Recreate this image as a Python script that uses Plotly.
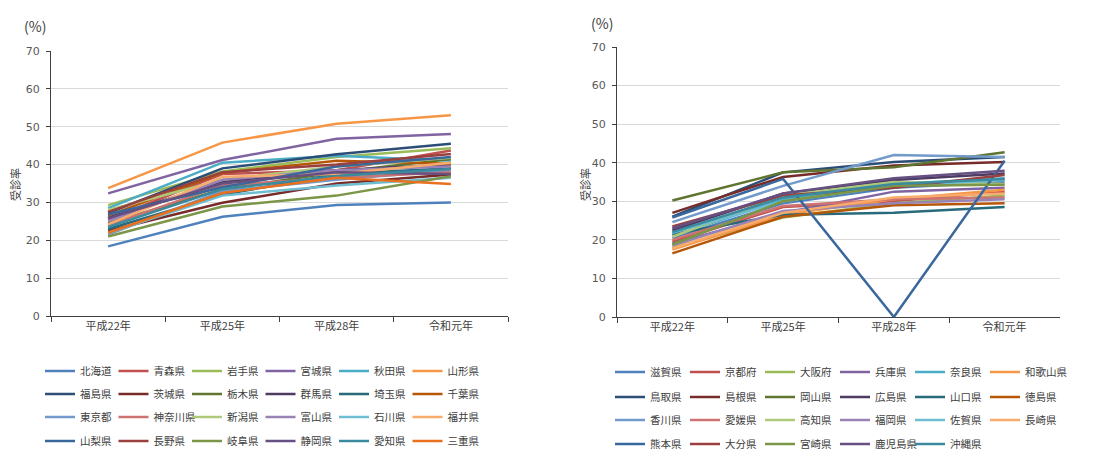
import plotly.graph_objects as go

# page is 1110x455, the figure div sits 8px in from the top-left corner
OFF = 8
W, H = 1110 - OFF, 455 - OFF

categories = ["平成22年", "平成25年", "平成28年", "令和元年"]
y_ticks = [0, 10, 20, 30, 40, 50, 60, 70]

# ---- left chart (北海道〜三重県) ----
left_names = ["北海道", "青森県", "岩手県", "宮城県", "秋田県", "山形県",
              "福島県", "茨城県", "栃木県", "群馬県", "埼玉県", "千葉県",
              "東京都", "神奈川県", "新潟県", "富山県", "石川県", "福井県",
              "山梨県", "長野県", "岐阜県", "静岡県", "愛知県", "三重県"]
left_values = [
    [18.4, 26.2, 29.3, 30.0],
    [25.5, 37.5, 38.5, 43.7],
    [29.3, 38.2, 42.0, 44.3],
    [32.4, 41.2, 46.8, 48.1],
    [28.5, 40.5, 42.3, 41.0],
    [33.8, 45.8, 50.8, 53.0],
    [27.2, 39.0, 42.7, 45.5],
    [22.5, 29.9, 35.0, 37.4],
    [24.5, 33.5, 38.0, 41.5],
    [26.0, 35.5, 38.5, 40.0],
    [23.0, 32.0, 37.5, 39.0],
    [26.5, 37.8, 41.0, 40.2],
    [21.5, 33.0, 36.0, 38.5],
    [24.0, 34.5, 36.5, 38.0],
    [28.0, 36.0, 39.5, 41.8],
    [25.0, 36.0, 38.5, 39.5],
    [22.0, 31.8, 34.5, 36.5],
    [24.2, 36.8, 37.5, 40.5],
    [26.8, 34.0, 39.5, 42.0],
    [27.5, 38.0, 40.0, 42.8],
    [21.0, 28.9, 31.8, 36.9],
    [25.8, 35.0, 38.0, 37.5],
    [23.5, 33.5, 37.0, 38.8],
    [22.0, 32.5, 36.5, 34.9],
]

# ---- right chart (滋賀県〜沖縄県) ----
right_names = ["滋賀県", "京都府", "大阪府", "兵庫県", "奈良県", "和歌山県",
               "鳥取県", "島根県", "岡山県", "広島県", "山口県", "徳島県",
               "香川県", "愛媛県", "高知県", "福岡県", "佐賀県", "長崎県",
               "熊本県", "大分県", "宮崎県", "鹿児島県", "沖縄県"]
right_values = [
    [20.5, 29.5, 33.5, 35.0],
    [19.5, 28.5, 30.0, 32.5],
    [18.0, 25.8, 29.5, 31.5],
    [19.0, 27.0, 32.5, 33.5],
    [21.0, 30.5, 34.5, 36.0],
    [17.5, 26.5, 30.5, 33.0],
    [26.0, 37.5, 40.2, 41.5],
    [27.0, 36.3, 39.3, 40.2],
    [30.2, 37.5, 38.8, 42.7],
    [22.5, 32.0, 35.5, 37.2],
    [21.5, 26.5, 27.0, 28.5],
    [16.5, 26.0, 29.0, 29.5],
    [24.6, 34.0, 42.0, 41.5],
    [20.0, 28.8, 30.5, 31.0],
    [20.8, 31.5, 35.0, 34.5],
    [18.5, 27.5, 29.5, 30.5],
    [21.8, 30.0, 34.0, 35.5],
    [17.8, 27.0, 31.0, 32.0],
    [25.8, 35.8, 0.0, 40.5],
    [23.5, 31.5, 33.5, 36.8],
    [18.8, 30.0, 34.0, 34.3],
    [23.0, 32.0, 36.0, 37.9],
    [22.0, 31.0, 34.5, 35.8],
]

palette = ["#4F81BD", "#C0504D", "#9BBB59", "#8064A2", "#4BACC6", "#F79646",
           "#2C4D75", "#772C2A", "#5F7530", "#4D3B62", "#276A7C", "#B65708",
           "#729ACA", "#CD7371", "#AFC97A", "#9983B5", "#6FBDD1", "#F9AB6B",
           "#3A679C", "#9A403E", "#7C9647", "#665082", "#3C8A9E", "#E9701F"]

CJK = "Noto Sans CJK JP"
NUM = "DejaVu Sans"
TXT = "#404040"

fig = go.Figure()

def add_chart(names, values, xa, ya, legend_base, entry_w):
    for i, (n, v) in enumerate(zip(names, values)):
        row, col = divmod(i, 6)
        fig.add_trace(go.Scatter(
            x=categories, y=v, name=n, mode="lines",
            line=dict(color=palette[i], width=2.5),
            xaxis=xa, yaxis=ya,
            legend="legend" if legend_base + row == 1 else f"legend{legend_base + row}",
            legendwidth=entry_w if col < 5 else 60,
            hoverinfo="skip",
        ))

add_chart(left_names, left_values, "x", "y", 1, 28.5)
add_chart(right_names, right_values, "x2", "y2", 5, 30)

def px_x(p):
    return (p - OFF) / W

def px_y(p):
    return (H - (p - OFF)) / H

xcommon = dict(type="category", categoryorder="array", categoryarray=categories,
               range=[-0.5, 3.5], tickson="boundaries", ticks="outside", ticklen=5,
               tickcolor="#404040", showline=True, linecolor="#404040", linewidth=1,
               showgrid=False, zeroline=False,
               tickfont=dict(family=CJK, size=11, color=TXT))
ycommon = dict(range=[0, 70], tickvals=y_ticks, ticks="outside", ticklen=4,
               tickcolor="#404040", showline=True, linecolor="#404040", linewidth=1,
               showgrid=True, gridcolor="#D9D9D9", gridwidth=1, zeroline=False,
               ticklabelstandoff=4,
               tickfont=dict(family=NUM, size=11, color="#595959"))

fig.update_layout(
    width=W, height=H,
    margin=dict(l=0, r=0, t=0, b=0, autoexpand=False),
    paper_bgcolor="white", plot_bgcolor="white",
    showlegend=True,
    xaxis=dict(domain=[px_x(51), px_x(508)], anchor="y", **xcommon),
    yaxis=dict(domain=[px_y(316), px_y(51)], anchor="x", **ycommon),
    xaxis2=dict(domain=[px_x(617), px_x(1060)], anchor="y2", **xcommon),
    yaxis2=dict(domain=[px_y(317), px_y(47)], anchor="x2", **ycommon),
)

leg_common = dict(orientation="h", xanchor="left", yanchor="middle",
                  entrywidthmode="pixels", itemwidth=30, bgcolor="rgba(0,0,0,0)",
                  font=dict(family=CJK, size=10.5, color="#404040"),
                  tracegroupgap=0, itemclick=False, itemdoubleclick=False)
left_rows = [371, 394, 417, 441]
right_rows = [372, 397, 420, 444]
for r, yy in enumerate(left_rows):
    key = "legend" if r == 0 else f"legend{r + 1}"
    fig.update_layout({key: dict(x=px_x(40), y=px_y(yy), **leg_common)})
for r, yy in enumerate(right_rows):
    key = f"legend{r + 5}"
    fig.update_layout({key: dict(x=px_x(610), y=px_y(yy), **leg_common)})

annots = [
    dict(text="(%)", x=px_x(35), y=px_y(26)),
    dict(text="(%)", x=px_x(602), y=px_y(23)),
    dict(text="受診率", x=px_x(15), y=px_y(185), textangle=-90),
    dict(text="受診率", x=px_x(585), y=px_y(185), textangle=-90),
]
for a in annots:
    fig.add_annotation(xref="paper", yref="paper", showarrow=False,
                       xanchor="center", yanchor="middle",
                       font=dict(family=CJK, size=14 if a["text"] == "(%)" else 11, color=TXT),
                       **a)

fig.write_html("out.html")
